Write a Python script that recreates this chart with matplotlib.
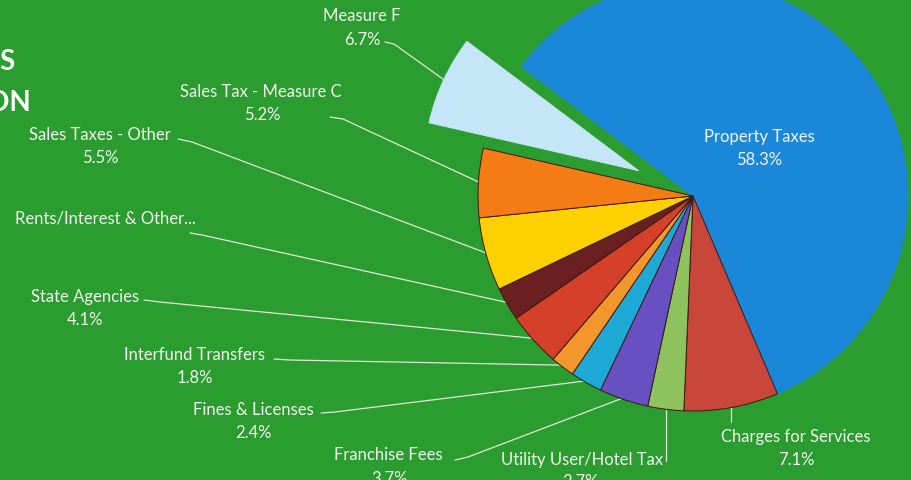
import numpy as np
import matplotlib
matplotlib.use("Agg")
import matplotlib.pyplot as plt

# ---- data ----
categories = ["Property Taxes", "Charges for Services", "Utility User/Hotel Tax",
              "Franchise Fees", "Fines & Licenses", "Interfund Transfers",
              "State Agencies", "Rents/Interest & Other...", "Sales Taxes - Other",
              "Sales Tax - Measure C", "Measure F"]
shares = [58.3, 7.1, 2.7, 3.7, 2.4, 1.8, 4.1, 2.5, 5.5, 5.2, 6.7]
pct_labels = ["58.3%", "7.1%", "2.7%", "3.7%", "2.4%", "1.8%", "4.1%", "", "5.5%", "5.2%", "6.7%"]
colors = ["#1b87d8", "#c9463a", "#8dc25c", "#6650c2", "#1ea8d6", "#f3962c",
          "#d4402a", "#6a2020", "#ffd000", "#f57c14", "#c4e6f6"]

W, H = 911, 481
BG = "#2b9c2f"
TXT = "#f2f4ee"

plt.rcParams['font.family'] = ['Lato', 'DejaVu Sans']

fig = plt.figure(figsize=(W / 100, H / 100), dpi=100, facecolor=BG)
ax = fig.add_axes([0, 0, 1, 1])
ax.set_facecolor(BG)

cx, cy, R = 693, H - 197, 215
explode = [0, 0, 0, 0, 0, 0, 0, 0, 0, 0, 60]

wedges, _ = ax.pie(shares, colors=colors, startangle=143, counterclock=False,
                   center=(cx, cy), radius=R, explode=explode,
                   wedgeprops=dict(edgecolor="#3b1a12", linewidth=0.7))
wedges[0].set_edgecolor(colors[0])
wedges[-1].set_edgecolor(colors[-1])

ax.set_xlim(0, W)
ax.set_ylim(0, H)
ax.set_aspect('auto')
ax.axis('off')

def P(x, y):
    return x, H - y

# label layout: (name center, pct center, leader start, elbow)
layout = {
    "Measure F": ((362, 16), (362, 40), (385, 43), (394, 45)),
    "Sales Tax - Measure C": ((261, 92), (262, 115), (330, 118), (343, 120)),
    "Sales Taxes - Other": ((100, 135), (100, 158), (178, 140), (192, 143)),
    "Rents/Interest & Other...": ((105, 218), None, (190, 234), (202, 236)),
    "State Agencies": ((85, 297), (85, 320), (144, 301), (160, 303)),
    "Interfund Transfers": ((195, 355), (195, 378), (274, 360), (290, 361)),
    "Fines & Licenses": ((253, 410), (253, 433), (321, 414), (335, 413)),
    "Franchise Fees": ((388, 455), (390, 479), (455, 461), (468, 458)),
    "Utility User/Hotel Tax": ((582, 460), (580, 482), (671, 462), None),
    "Charges for Services": ((796, 437), (796, 460), (739, 423), None),
    "Property Taxes": ((759, 137), (759, 160), None, None),
}

fs = 12
for i, name in enumerate(categories):
    nm, pc, start, elbow = layout[name]
    ax.text(*P(*nm), name, ha='center', va='center', fontsize=fs, color=TXT)
    if pc is not None and pct_labels[i]:
        ax.text(*P(*pc), pct_labels[i], ha='center', va='center', fontsize=fs, color=TXT)
    if start is None:
        continue
    w = wedges[i]
    th = np.deg2rad((w.theta1 + w.theta2) / 2)
    wx, wy = w.center
    tx, ty = wx + w.r * 0.99 * np.cos(th), wy + w.r * 0.99 * np.sin(th)
    sx, sy = P(*start)
    if elbow is None:
        xs, ys = [tx, tx], [sy, ty]
    else:
        ex, ey = P(*elbow)
        xs, ys = [sx, ex, tx], [sy, ey, ty]
    ax.plot(xs, ys, color="#dfe9d6", lw=0.9, solid_capstyle='round', zorder=0.5)

# partially visible title at the left edge
ax.text(*P(15, 62), "S", ha='right', va='center', fontsize=20, fontweight='bold', color="white")
ax.text(*P(31, 103), "ON", ha='right', va='center', fontsize=20, fontweight='bold', color="white")

fig.savefig("out.png", dpi=100, facecolor=BG)
